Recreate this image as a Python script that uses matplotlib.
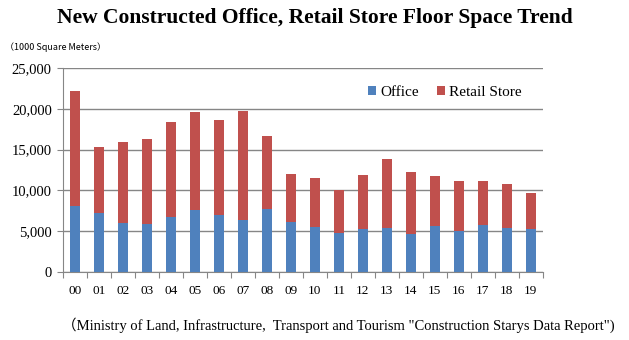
import matplotlib
matplotlib.use("Agg")
import matplotlib.pyplot as plt
from matplotlib.ticker import FuncFormatter, FixedLocator
import numpy as np

# floor space of new construction, 1000 m2
years = ['00', '01', '02', '03', '04', '05', '06', '07', '08', '09',
         '10', '11', '12', '13', '14', '15', '16', '17', '18', '19']
office = [8050, 7250, 5980, 5900, 6720, 7620, 6930, 6350, 7700, 6150,
          5490, 4800, 5250, 5450, 4630, 5610, 5080, 5780, 5450, 5250]
total = [22130, 15330, 15900, 16310, 18360, 19550, 18600, 19670, 16640, 12050,
         11520, 10040, 11840, 13850, 12250, 11720, 11150, 11150, 10780, 9670]
retail = [t - o for t, o in zip(total, office)]

blue = '#4F81BD'
red = '#C0504D'
serif = ['Liberation Serif', 'Noto Sans CJK JP']

fig = plt.figure(figsize=(6.29, 3.40), dpi=100)
ax = fig.add_axes([0.100, 0.200, 0.763, 0.600])

x = np.arange(len(years))
ax.bar(x, office, width=0.4, color=blue, label='Office', zorder=3)
ax.bar(x, retail, width=0.4, bottom=office, color=red, label='Retail Store', zorder=3)

ax.set_xlim(-0.5, len(years) - 0.5)
ax.set_ylim(0, 25000)
ax.set_yticks(range(0, 25001, 5000))
ax.yaxis.set_major_formatter(FuncFormatter(lambda v, p: f'{int(v):,}'))
ax.yaxis.grid(True, color='#868686', linewidth=1.0, zorder=0)

# ticks between categories, labels centred under bars
ax.xaxis.set_major_locator(FixedLocator(np.arange(-0.5, len(years), 1.0)))
ax.xaxis.set_major_formatter(FuncFormatter(lambda v, p: ''))
ax.xaxis.set_minor_locator(FixedLocator(x))
ax.set_xticklabels(years, minor=True)
ax.tick_params(axis='x', which='major', length=4, color='#868686')
ax.tick_params(axis='x', which='minor', length=0, pad=9)
ax.tick_params(axis='y', length=4, color='#868686', pad=4)

for lab in ax.get_xticklabels(minor=True):
    lab.set_family(serif)
    lab.set_fontsize(9.5)
for lab in ax.get_yticklabels():
    lab.set_family(serif)
    lab.set_fontsize(10.5)

for s in ['top', 'right']:
    ax.spines[s].set_visible(False)
for s in ['left', 'bottom']:
    ax.spines[s].set_color('#868686')

leg = ax.legend(loc='upper right', bbox_to_anchor=(0.985, 0.98), ncol=2, frameon=False,
                handlelength=0.55, handleheight=0.55, handletextpad=0.25, columnspacing=1.2,
                prop={'family': serif, 'size': 11})

fig.text(0.5, 0.948, 'New Constructed Office, Retail Store Floor Space Trend',
         ha='center', va='center', fontsize=15.5, fontweight='bold', family=serif)
fig.text(0.008, 0.862, '（1000 Square Meters）', ha='left', va='center',
         fontsize=6.5, family=['Noto Sans CJK JP', 'DejaVu Sans'])
fig.text(0.538, 0.045,
         '（Ministry of Land, Infrastructure,  Transport and Tourism "Construction Starys Data Report")',
         ha='center', va='center', fontsize=10.5, family=serif)

fig.savefig('out.png', dpi=100)
